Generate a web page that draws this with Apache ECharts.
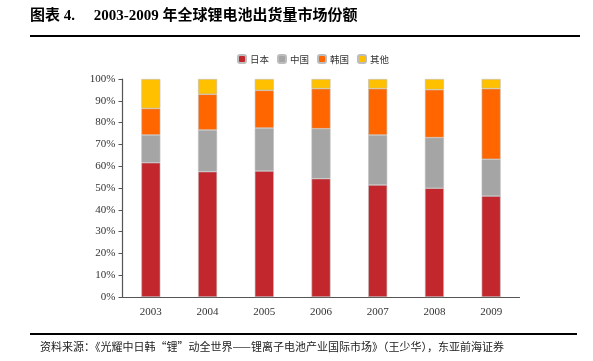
<!DOCTYPE html>
<html><head><meta charset="utf-8">
<script src="https://cdn.jsdelivr.net/npm/echarts@6/dist/echarts.min.js"></script>
<style>html,body{margin:0;padding:0;background:#fff}#c{width:593px;height:361px}</style>
</head><body><div id="c"></div>
<script>
var categories = ['2003','2004','2005','2006','2007','2008','2009'];
var japan  = [61.6, 57.5, 57.8, 54.3, 51.4, 49.9, 46.3];
var china  = [12.7, 19.1, 19.7, 22.9, 22.9, 23.2, 16.9];
var korea  = [12.2, 16.4, 17.3, 18.4, 21.3, 22.0, 32.4];
var others = [13.5,  7.0,  5.2,  4.4,  4.4,  4.9,  4.4];
var seriesNames = ['日本','中国','韩国','其他'];
var yTicks = ['0%','10%','20%','30%','40%','50%','60%','70%','80%','90%','100%'];
var colors = ['#C1272D','#A5A5A5','#FF6600','#FFC000'];

var chart = echarts.init(document.getElementById('c'), null, {renderer:'canvas'});
var cjk = '"Noto Sans CJK SC", sans-serif';
var serif = '"Liberation Serif", "DejaVu Serif", serif';
function mk(name, data, i){
  return {name:name, type:'bar', stack:'s', data:data, barWidth:19,
    itemStyle:{color:colors[i], borderColor:'#bdbdbd', borderWidth:0.6},
    emphasis:{disabled:true}};
}
chart.setOption({
  animation:false,
  color:colors,
  legend:{top:49, left:232, itemWidth:8, itemHeight:8, itemGap:8,
    textStyle:{fontFamily:cjk, fontSize:9.5, color:'#333', padding:[0,0,0,-1]},
    data:seriesNames},
  grid:{left:122.5, right:73.5, top:79, bottom:64},
  xAxis:{type:'category', data:categories,
    axisLine:{lineStyle:{color:'#555', width:1.2}},
    axisTick:{show:false},
    axisLabel:{fontFamily:serif, fontSize:11, color:'#333', margin:10}},
  yAxis:{type:'value', min:0, max:100, interval:10,
    axisLine:{show:true, lineStyle:{color:'#555', width:1.2}},
    axisTick:{show:true, inside:false, length:4, lineStyle:{color:'#555'}},
    splitLine:{show:false},
    axisLabel:{fontFamily:serif, fontSize:11, color:'#333', margin:7,
      formatter:function(v){return yTicks[Math.round(v/10)];}}},
  series:[mk(seriesNames[0],japan,0), mk(seriesNames[1],china,1), mk(seriesNames[2],korea,2), mk(seriesNames[3],others,3)],
  graphic:[
    {type:'text', left:30, top:9, style:{text:'图表 4.     2003-2009 年全球锂电池出货量市场份额', font:'bold 15px "Liberation Serif", "Noto Sans CJK SC", serif', fill:'#000'}},
    {type:'rect', shape:{x:30, y:35, width:550, height:2}, style:{fill:'#000'}},
    {type:'rect', shape:{x:30, y:333, width:547, height:2}, style:{fill:'#000'}},
    {type:'text', left:40, top:341, style:{text:'资料来源：《光耀中日韩“锂”动全世界——锂离子电池产业国际市场》（王少华），东亚前海证券', font:'11px "Noto Sans CJK SC", sans-serif', fill:'#222'}}
  ]
});
</script></body></html>
